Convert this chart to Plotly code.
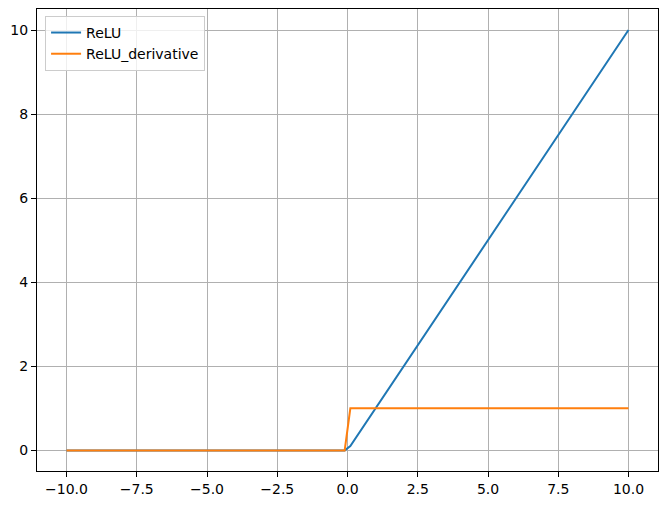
import plotly.graph_objects as go

x_vals = [-10.0, -0.101, 0.101, 10.0]
relu_vals = [0.0, 0.0, 0.101, 10.0]
relu_deriv_vals = [0.0, 0.0, 1.0, 1.0]

x_ticks = [-10.0, -7.5, -5.0, -2.5, 0.0, 2.5, 5.0, 7.5, 10.0]
y_ticks = [0, 2, 4, 6, 8, 10]

fig = go.Figure()
fig.add_trace(go.Scatter(x=x_vals, y=relu_vals, mode="lines", name="ReLU",
                         line=dict(color="#1f77b4", width=2)))
fig.add_trace(go.Scatter(x=x_vals, y=relu_deriv_vals, mode="lines", name="ReLU_derivative",
                         line=dict(color="#ff7f0e", width=2)))

axis_common = dict(
    showgrid=True, gridcolor="#b0b0b0", gridwidth=1,
    zeroline=False, showline=True, linecolor="black", linewidth=1, mirror=True,
    ticks="outside", ticklen=5, tickwidth=1, tickcolor="black",
    tickfont=dict(family="DejaVu Sans", size=14, color="black"),
    automargin=False,
)

# page body has an 8px margin, so the figure is sized/offset to compensate
fig.update_layout(
    width=659, height=497,
    margin=dict(l=29, r=9, t=1, b=34),
    paper_bgcolor="white", plot_bgcolor="white",
    font=dict(family="DejaVu Sans", size=14, color="black"),
    xaxis=dict(range=[-11.05, 11.05], tickvals=x_ticks,
               ticktext=[f"{v:.1f}".replace("-", "\u2212") for v in x_ticks], **axis_common),
    yaxis=dict(range=[-0.49, 10.5], tickvals=y_ticks,
               ticktext=[str(v) for v in y_ticks], **axis_common),
    legend=dict(x=0.013, y=0.985, xanchor="left", yanchor="top",
                bgcolor="rgba(255,255,255,0.8)", bordercolor="#cccccc", borderwidth=1,
                font=dict(family="DejaVu Sans", size=14, color="black"),
                tracegroupgap=0),
    showlegend=True,
)

fig.write_html("out.html")
